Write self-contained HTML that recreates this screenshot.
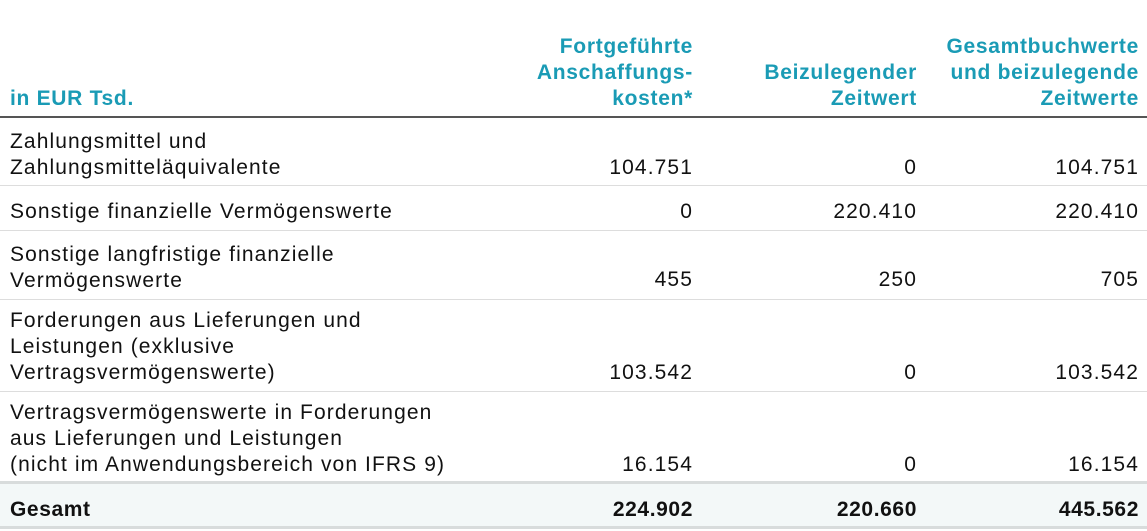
<!DOCTYPE html>
<html><head><meta charset="utf-8"><style>
body{margin:0;width:1147px;height:531px;background:#fff;position:relative;overflow:hidden;font-family:"Liberation Sans",sans-serif;font-size:21px;letter-spacing:1.1px;color:#111}
.t{position:absolute;line-height:26px;white-space:nowrap}
.h{color:#1a9bb5;font-weight:bold;text-align:right;letter-spacing:0.7px}
.r{text-align:right}
.l{position:absolute;left:0;width:1147px}
.b{font-weight:bold;letter-spacing:0.6px}
</style></head><body>
<div class="t h" style="left:10px;top:86px;text-align:left">in EUR Tsd.</div>
<div class="t h" style="right:454px;top:34px">Fortgeführte<br>Anschaffungs-<br>kosten*</div>
<div class="t h" style="right:230px;top:60px">Beizulegender<br>Zeitwert</div>
<div class="t h" style="right:8px;top:34px">Gesamtbuchwerte<br>und beizulegende<br>Zeitwerte</div>
<div class="l" style="top:116px;height:2px;background:#555"></div>

<div class="t" style="left:10px;top:129px">Zahlungsmittel und<br>Zahlungsmitteläquivalente</div>
<div class="t r" style="right:454px;top:155px">104.751</div>
<div class="t r" style="right:230px;top:155px">0</div>
<div class="t r" style="right:8px;top:155px">104.751</div>
<div class="l" style="top:185px;height:1px;background:#ddd"></div>

<div class="t" style="left:10px;top:199px">Sonstige finanzielle Vermögenswerte</div>
<div class="t r" style="right:454px;top:199px">0</div>
<div class="t r" style="right:230px;top:199px">220.410</div>
<div class="t r" style="right:8px;top:199px">220.410</div>
<div class="l" style="top:230px;height:1px;background:#ddd"></div>

<div class="t" style="left:10px;top:242px">Sonstige langfristige finanzielle<br>Vermögenswerte</div>
<div class="t r" style="right:454px;top:267px">455</div>
<div class="t r" style="right:230px;top:267px">250</div>
<div class="t r" style="right:8px;top:267px">705</div>
<div class="l" style="top:299px;height:1px;background:#ddd"></div>

<div class="t" style="left:10px;top:308px">Forderungen aus Lieferungen und<br>Leistungen (exklusive<br>Vertragsvermögenswerte)</div>
<div class="t r" style="right:454px;top:360px">103.542</div>
<div class="t r" style="right:230px;top:360px">0</div>
<div class="t r" style="right:8px;top:360px">103.542</div>
<div class="l" style="top:391px;height:1px;background:#ddd"></div>

<div class="t" style="left:10px;top:400px">Vertragsvermögenswerte in Forderungen<br>aus Lieferungen und Leistungen<br>(nicht im Anwendungsbereich von IFRS 9)</div>
<div class="t r" style="right:454px;top:452px">16.154</div>
<div class="t r" style="right:230px;top:452px">0</div>
<div class="t r" style="right:8px;top:452px">16.154</div>

<div class="l" style="top:481px;height:3px;background:#d8dcdc"></div>
<div class="l" style="top:484px;height:42px;background:#f3f8f8"></div>
<div class="l" style="top:526px;height:3px;background:#d8dcdc"></div>
<div class="t b" style="left:10px;top:497px">Gesamt</div>
<div class="t r b" style="right:454px;top:497px">224.902</div>
<div class="t r b" style="right:230px;top:497px">220.660</div>
<div class="t r b" style="right:8px;top:497px">445.562</div>
</body></html>
